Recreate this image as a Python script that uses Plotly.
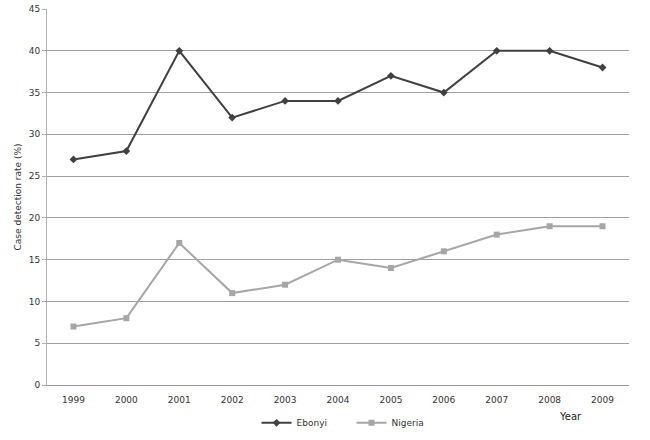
import plotly.graph_objects as go

years = ["1999", "2000", "2001", "2002", "2003", "2004", "2005", "2006", "2007", "2008", "2009"]
ebonyi = [27, 28, 40, 32, 34, 34, 37, 35, 40, 40, 38]
nigeria = [7, 8, 17, 11, 12, 15, 14, 16, 18, 19, 19]
y_ticks = [0, 5, 10, 15, 20, 25, 30, 35, 40, 45]

fig = go.Figure()
fig.add_trace(go.Scatter(x=years, y=ebonyi, name="Ebonyi", mode="lines+markers",
                         line=dict(color="#404040", width=2),
                         marker=dict(symbol="diamond", size=6, color="#404040")))
fig.add_trace(go.Scatter(x=years, y=nigeria, name="Nigeria", mode="lines+markers",
                         line=dict(color="#a6a6a6", width=2),
                         marker=dict(symbol="square", size=6, color="#a6a6a6")))

fig.update_layout(
    width=650, height=440,
    margin=dict(l=47, r=21, t=9, b=55, autoexpand=False),
    paper_bgcolor="white", plot_bgcolor="white",
    font=dict(family="DejaVu Sans", size=9, color="#333333"),
    showlegend=True,
    legend=dict(orientation="h", x=0.36, xanchor="left", y=-0.062, yanchor="top",
                font=dict(size=9), itemwidth=30, entrywidth=50, tracegroupgap=0),
    xaxis=dict(type="category", range=[-0.5, 10.5], showgrid=False, showline=True,
               linecolor="#999999", linewidth=1, ticks="", tickfont=dict(size=9),
               ticklabelstandoff=6, automargin=False),
    yaxis=dict(range=[0, 45], tickvals=y_ticks, showgrid=True, gridcolor="#a0a0a0",
               gridwidth=1, showline=True, linecolor="#b0b0b0", linewidth=1,
               ticks="outside", ticklen=4, tickcolor="#b0b0b0", zeroline=False,
               tickfont=dict(size=9), automargin=False,
               title=dict(text="Case detection rate (%)", font=dict(size=9), standoff=5)),
    annotations=[dict(text="Year", x=0.900, xref="paper", xanchor="center",
                      y=-0.065, yref="paper", yanchor="top", showarrow=False,
                      font=dict(size=10, color="#222222"))],
)

fig.write_html("out.html", config={"displayModeBar": False},
               post_script="document.body.style.margin='0';document.body.style.overflow='hidden';")
